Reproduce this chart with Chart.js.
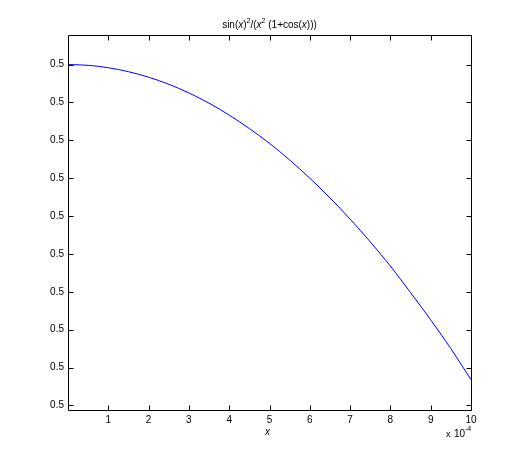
<!DOCTYPE html>
<html>
<head>
<meta charset="utf-8">
<script src="https://cdn.jsdelivr.net/npm/chart.js@4/dist/chart.umd.min.js"></script>
<style>
  html, body { margin: 0; padding: 0; background: #ffffff; }
  #wrap { width: 520px; height: 460px; }
</style>
</head>
<body>
<div id="wrap"><canvas id="c" width="520" height="460"></canvas></div>
<script>
// ---- data ----
const xValues = [0, 0.00005, 0.0001, 0.00015, 0.0002, 0.00025, 0.0003, 0.00035, 0.0004, 0.00045,
                 0.0005, 0.00055, 0.0006, 0.00065, 0.0007, 0.00075, 0.0008, 0.00085, 0.0009, 0.00095, 0.001];
const yValues = [0.5, 0.4999999999, 0.49999999958, 0.49999999906, 0.49999999833, 0.4999999974,
                 0.49999999625, 0.4999999949, 0.49999999333, 0.49999999155, 0.4999999896,
                 0.4999999874, 0.499999985, 0.4999999824, 0.4999999796, 0.4999999766,
                 0.4999999734, 0.4999999699, 0.4999999663, 0.4999999625, 0.4999999584];
const xTickValues = [0.0001, 0.0002, 0.0003, 0.0004, 0.0005, 0.0006, 0.0007, 0.0008, 0.0009, 0.001];
const xTickLabels = ['1', '2', '3', '4', '5', '6', '7', '8', '9', '10'];
const yTickValues = [0.5, 0.499999995, 0.49999999, 0.499999985, 0.49999998,
                     0.499999975, 0.49999997, 0.499999965, 0.49999996, 0.499999955];
const yTickLabels = ['0.5', '0.5', '0.5', '0.5', '0.5', '0.5', '0.5', '0.5', '0.5', '0.5'];
const titleText = 'sin(x)^2/(x^2 (1+cos(x)))';
const xAxisLabel = 'x';
const xExponentLabel = 'x 10^-4';

const FONT = '"Liberation Sans", Arial, Helvetica, sans-serif';

const points = xValues.map((x, i) => ({ x: x, y: yValues[i] }));

function drawRich(ctx, parts, cx, baseline) {
  // parts: [text, style] where style: 'n' normal, 'i' italic, 's' superscript
  const fontFor = s => s === 'i' ? 'italic 10px ' + FONT : (s === 's' ? '7px ' + FONT : '10px ' + FONT);
  let total = 0;
  parts.forEach(p => { ctx.font = fontFor(p[1]); total += ctx.measureText(p[0]).width; });
  let x = cx - total / 2;
  ctx.textAlign = 'left';
  ctx.textBaseline = 'alphabetic';
  parts.forEach(p => {
    ctx.font = fontFor(p[1]);
    ctx.fillText(p[0], x, p[1] === 's' ? baseline - 5 : baseline);
    x += ctx.measureText(p[0]).width;
  });
}

const matlabFrame = {
  id: 'matlabFrame',
  beforeDraw(chart) {
    const ctx = chart.ctx;
    ctx.save();
    ctx.fillStyle = '#ffffff';
    ctx.fillRect(0, 0, chart.width, chart.height);
    ctx.restore();
  },
  afterDraw(chart) {
    const ctx = chart.ctx;
    const a = chart.chartArea;
    const xs = chart.scales.x, ys = chart.scales.y;
    ctx.save();
    ctx.strokeStyle = '#000000';
    ctx.lineWidth = 1;
    const L = Math.round(a.left) + 0.5, R = Math.round(a.right) + 0.5;
    const T = Math.round(a.top) + 0.5, B = Math.round(a.bottom) + 0.5;
    ctx.beginPath();
    ctx.rect(L, T, R - L, B - T);
    ctx.stroke();
    const tl = 5;
    ctx.beginPath();
    xTickValues.forEach(v => {
      const px = Math.round(xs.getPixelForValue(v)) + 0.5;
      ctx.moveTo(px, B); ctx.lineTo(px, B - tl);
      ctx.moveTo(px, T); ctx.lineTo(px, T + tl);
    });
    yTickValues.forEach(v => {
      const py = Math.round(ys.getPixelForValue(v)) + 0.5;
      ctx.moveTo(L, py); ctx.lineTo(L + tl, py);
      ctx.moveTo(R, py); ctx.lineTo(R - tl, py);
    });
    ctx.stroke();

    ctx.fillStyle = '#000000';
    // title
    const cx = (a.left + a.right) / 2;
    drawRich(ctx, [['sin(', 'n'], ['x', 'i'], [')', 'n'], ['2', 's'], ['/(', 'n'], ['x', 'i'], ['2', 's'],
                   [' (1+cos(', 'n'], ['x', 'i'], [')))', 'n']], cx, 28);
    // x axis label
    drawRich(ctx, [[xAxisLabel, 'i']], cx - 2, 435);
    // exponent label
    ctx.textAlign = 'left';
    ctx.font = '9px ' + FONT;
    ctx.fillText('x', 446, 437);
    ctx.font = '10px ' + FONT;
    ctx.fillText('10', 454, 437);
    ctx.font = '7px ' + FONT;
    ctx.fillText('-4', 465, 431);
    ctx.restore();
  }
};

new Chart(document.getElementById('c'), {
  type: 'line',
  data: {
    datasets: [{
      data: points,
      borderColor: '#0000ff',
      borderWidth: 1,
      pointRadius: 0,
      fill: false,
      cubicInterpolationMode: 'monotone'
    }]
  },
  options: {
    responsive: false,
    devicePixelRatio: 1,
    animation: false,
    events: [],
    layout: { padding: { left: 0, top: 35, right: 49, bottom: 0 } },
    plugins: { legend: { display: false }, title: { display: false }, tooltip: { enabled: false } },
    scales: {
      x: {
        type: 'linear',
        min: 0,
        max: 0.001,
        grid: { display: false, drawTicks: false },
        border: { display: false },
        afterBuildTicks: s => { s.ticks = xTickValues.map(v => ({ value: v })); },
        afterFit: s => { s.height = 50; },
        ticks: {
          autoSkip: false,
          maxRotation: 0,
          padding: 4,
          color: '#000000',
          font: { family: FONT, size: 10 },
          callback: (v, i) => xTickLabels[i]
        }
      },
      y: {
        type: 'linear',
        min: 0.4999999544,
        max: 0.5000000039,
        grid: { display: false, drawTicks: false },
        border: { display: false },
        afterBuildTicks: s => { s.ticks = yTickValues.map(v => ({ value: v })); },
        afterFit: s => { s.width = 68; },
        ticks: {
          autoSkip: false,
          padding: 4,
          color: '#000000',
          font: { family: FONT, size: 10 },
          callback: (v, i) => yTickLabels[i]
        }
      }
    }
  },
  plugins: [matlabFrame]
});
</script>
</body>
</html>
